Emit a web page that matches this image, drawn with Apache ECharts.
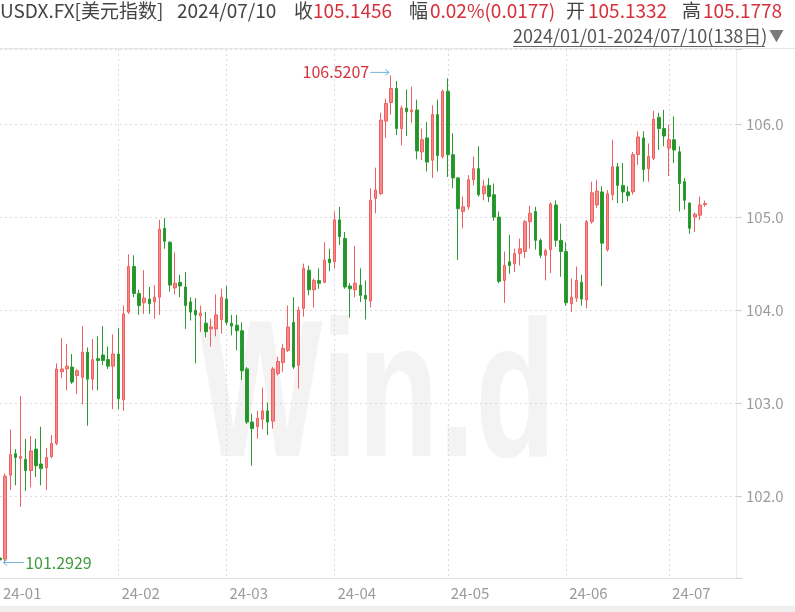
<!DOCTYPE html>
<html><head><meta charset="utf-8">
<script src="https://cdn.jsdelivr.net/npm/echarts@6/dist/echarts.min.js"></script>
<style>html,body{margin:0;padding:0;background:#fff}#c{width:795px;height:612px}</style>
</head><body><div id="c"></div>
<script>
// ---- data ----
const openP = [
101.34,101.33,102.23,102.46,102.41,102.40,102.28,102.51,102.35,102.31,
102.43,102.57,103.34,103.37,103.39,103.30,103.28,103.55,103.26,103.48,
103.52,103.47,103.40,103.53,103.04,103.98,104.47,104.18,104.08,104.12,
104.09,104.14,104.88,104.73,104.24,104.30,104.25,104.09,104.00,103.94,
103.86,103.80,103.80,103.90,104.12,103.86,103.84,103.78,103.37,102.80,
102.75,102.83,102.92,102.81,103.32,103.44,103.57,103.87,103.41,104.02,
104.43,104.22,104.32,104.30,104.55,104.52,104.97,104.77,104.26,104.22,
104.27,104.16,104.10,105.20,105.25,106.03,106.23,106.38,105.95,106.17,
106.13,106.15,105.70,105.85,105.61,106.10,105.65,106.35,105.67,105.42,
105.06,105.11,105.40,105.52,105.25,105.34,105.24,105.00,104.32,104.52,
104.50,104.61,104.63,104.95,105.06,104.75,104.59,104.65,105.13,104.75,
104.63,104.07,104.13,104.30,104.11,104.95,105.13,105.27,104.65,105.24,
105.54,105.34,105.27,105.27,105.67,105.85,105.52,105.63,106.07,105.95,
105.74,105.83,105.70,105.38,105.15,105.00,105.02,105.1332];
const closeP = [
101.32,102.22,102.45,102.42,102.43,102.28,102.49,102.33,102.30,102.42,
102.57,103.37,103.37,103.40,103.23,103.35,103.55,103.26,103.47,103.46,
103.46,103.40,103.53,103.05,103.96,104.47,104.18,104.05,104.13,104.07,
104.14,104.87,104.74,104.27,104.29,104.26,104.05,103.98,103.95,103.97,
103.77,103.82,103.95,104.14,103.87,103.83,103.78,103.35,102.80,102.73,
102.84,102.92,102.80,103.37,103.45,103.59,103.82,103.39,104.00,104.45,
104.22,104.32,104.29,104.54,104.51,104.97,104.79,104.25,104.23,104.29,
104.16,104.12,105.18,105.29,106.04,106.22,106.38,105.95,106.17,106.13,
106.15,105.71,105.83,105.59,106.10,105.66,106.35,105.67,105.42,105.09,
105.11,105.40,105.52,105.24,105.33,105.22,105.00,104.31,104.48,104.48,
104.61,104.66,104.95,105.04,104.75,104.59,104.64,105.14,104.75,104.63,
104.08,104.14,104.32,104.12,104.95,105.26,105.28,104.72,105.25,105.54,
105.34,105.27,105.23,105.67,105.86,105.51,105.65,106.05,105.95,105.87,
105.83,105.72,105.36,105.18,104.88,105.03,105.13,105.1456];
const lowP = [
101.30,101.2929,102.07,102.12,101.89,102.06,102.10,102.21,102.12,102.07,
102.41,102.55,103.27,103.14,103.21,103.10,102.99,102.76,103.14,103.14,
103.41,103.37,102.94,102.94,102.92,103.96,104.14,103.95,103.96,103.96,
103.91,103.95,104.66,104.20,104.17,104.14,103.80,103.89,103.43,103.77,
103.71,103.61,103.72,103.75,103.84,103.73,103.57,103.25,102.78,102.33,
102.62,102.72,102.66,102.73,103.30,103.34,103.55,103.37,103.16,103.93,
104.16,104.03,104.23,104.29,104.42,104.45,104.70,104.23,103.92,104.14,
104.09,103.90,104.03,105.04,105.24,105.85,106.10,105.88,105.77,105.87,
106.01,105.62,105.61,105.49,105.42,105.49,105.63,105.43,105.31,104.54,
104.88,105.08,105.34,105.22,105.18,105.16,104.96,104.29,104.08,104.39,
104.41,104.48,104.56,104.66,104.65,104.56,104.32,104.40,104.68,104.36,
104.05,103.98,104.09,104.05,104.02,104.93,105.10,104.26,104.63,105.18,
105.15,105.15,105.17,105.24,105.56,105.38,105.38,105.61,105.72,105.76,
105.44,105.58,105.06,105.08,104.82,104.84,104.97,105.11];
const highP = [
101.36,102.25,102.72,102.51,103.08,102.62,102.65,102.62,102.75,102.52,
102.66,103.43,103.70,103.64,103.53,103.37,103.83,103.60,103.69,103.72,
103.83,103.61,103.74,103.81,104.05,104.60,104.59,104.22,104.43,104.25,
104.27,104.97,104.99,104.74,104.62,104.38,104.41,104.14,104.13,104.05,
103.98,103.91,104.17,104.23,104.26,103.95,103.95,103.87,103.39,102.89,
102.92,103.17,103.01,103.39,103.50,103.64,104.05,104.14,104.04,104.50,
104.48,104.34,104.45,104.73,104.66,105.06,105.11,104.84,104.29,104.69,
104.45,104.32,105.31,105.53,106.12,106.27,106.5207,106.46,106.20,106.37,
106.40,106.26,105.95,106.02,106.20,106.26,106.37,106.49,105.90,105.43,
105.22,105.45,105.65,105.76,105.40,105.42,105.36,105.06,104.63,104.81,
104.66,104.77,104.97,105.12,105.11,104.77,104.66,105.16,105.18,104.93,
104.73,104.34,104.47,104.38,104.97,105.38,105.40,105.33,105.29,105.83,
105.58,105.58,105.33,105.70,105.92,105.92,105.79,106.14,106.12,106.15,
105.99,106.08,105.76,105.42,105.16,105.05,105.22,105.1778];
const yTickLabels = ['102.0','103.0','104.0','105.0','106.0'];
const headerParts = [
  ['USDX.FX[美元指数]', '#444'], ['2024/07/10', '#444'], ['收', '#444'], ['105.1456', '#d7303a'],
  ['幅', '#444'], ['0.02%(0.0177)', '#d7303a'], ['开', '#444'], ['105.1332', '#d7303a'],
  ['高', '#444'], ['105.1778', '#d7303a']
];
const rangeText = '2024/01/01-2024/07/10(138日)';

// trading-day categories (weekdays 2024-01-01 .. 2024-07-10)
const dates = [];
for (let d = new Date(Date.UTC(2024,0,1)); d <= new Date(Date.UTC(2024,6,10)); d.setUTCDate(d.getUTCDate()+1)) {
  const w = d.getUTCDay();
  if (w !== 0 && w !== 6) dates.push(d.toISOString().slice(0,10));
}
const categories = dates.concat(['', '', '', '', '', '']);
const monthStart = categories.map((v, i) => v !== '' && (i === 0 || v.slice(5,7) !== categories[i-1].slice(5,7)));

const FONT = '"Noto Sans CJK SC", "Noto Sans", sans-serif';
const chart = echarts.init(document.getElementById('c'), null, {renderer: 'canvas'});
const headerX = [0, 177, 294, 313, 409, 430, 566, 588, 682, 703];

const graphics = [
  {type:'text', x:198, y:402, scaleX:0.68, z:0, silent:true,
   style:{text:'Win.d', font:'bold 194px "Liberation Sans", sans-serif', fill:'#f3f3f3', verticalAlign:'middle', textVerticalAlign:'middle'}},
  {type:'line', shape:{x1:0, y1:48.5, x2:795, y2:48.5}, style:{stroke:'#e6e6e6', lineWidth:1}, z:10},
  {type:'rect', shape:{x:0, y:606, width:795, height:6}, style:{fill:'#efefef'}, z:10},
  {type:'text', x:513, y:36, z:10, style:{text:rangeText, font:'18px ' + FONT, fill:'#555', verticalAlign:'middle', textVerticalAlign:'middle'}},
  {type:'line', shape:{x1:513, y1:46.5, x2:765, y2:46.5}, style:{stroke:'#666', lineWidth:1}, z:10},
  {type:'text', x:769, y:35, z:10, style:{text:'▼', font:'15px ' + FONT, fill:'#7a7a7a', verticalAlign:'middle', textVerticalAlign:'middle'}}
];
headerParts.forEach((p, i) => {
  graphics.push({type:'text', x:headerX[i], y:11, z:10,
    style:{text:p[0], font:'19px ' + FONT, fill:p[1], verticalAlign:'middle', textVerticalAlign:'middle'}});
});

chart.setOption({
  animation: false,
  backgroundColor: '#fff',
  grid: {left: 0, right: 59, top: 49, bottom: 34},
  xAxis: {
    type: 'category', data: categories, boundaryGap: false,
    axisLine: {show: true, lineStyle: {color: '#e2e2e2'}},
    axisTick: {show: false},
    axisLabel: {interval: (i) => monthStart[i], formatter: (v) => v.slice(2,7), align: 'left',
      color: '#9b9b9b', fontSize: 15, fontFamily: FONT, margin: 8, padding: [0,0,0,3]},
    splitLine: {show: true, interval: (i) => monthStart[i] && i > 0, lineStyle: {color: '#dadada', type: [2,3]}}
  },
  yAxis: {
    type: 'value', position: 'right', min: 101.126, max: 106.804, scale: true, splitNumber: 5,
    axisLine: {show: true, lineStyle: {color: '#ececec'}},
    axisTick: {show: true, length: 6, lineStyle: {color: '#cfcfcf'}},
    axisLabel: {color: '#9b9b9b', fontSize: 15, fontFamily: FONT, margin: 10,
      formatter: (v) => { const s = v.toFixed(1); return yTickLabels.indexOf(s) >= 0 && Math.abs(v - Math.round(v)) < 1e-6 ? s : ''; }},
    splitLine: {show: true, lineStyle: {color: '#dadada', type: [2,3]}}
  },
  series: [{
    type: 'candlestick', z: 3,
    barWidth: 3,
    data: openP.map((o, i) => [o, closeP[i], lowP[i], highP[i]]),
    itemStyle: {color: '#f58a8a', color0: '#23962a', borderColor: '#ef5f5f', borderColor0: '#2b9a31', borderWidth: 1}
  }],
  graphic: graphics
});

// annotations for the highest high and lowest low
const hiIdx = highP.indexOf(Math.max(...highP));
const loIdx = lowP.indexOf(Math.min(...lowP));
const hp = chart.convertToPixel({gridIndex: 0}, [hiIdx, highP[hiIdx]]);
const lp = chart.convertToPixel({gridIndex: 0}, [loIdx, lowP[loIdx]]);
const arrowC = '#76b5dc';
const ann = [
  {type:'polyline', shape:{points:[[hp[0]-21, hp[1]-3],[hp[0]-2, hp[1]-3]]}, style:{stroke:arrowC, lineWidth:1, fill:null}, z:12},
  {type:'polyline', shape:{points:[[hp[0]-6, hp[1]-6],[hp[0]-2, hp[1]-3],[hp[0]-6, hp[1]]]}, style:{stroke:arrowC, lineWidth:1, fill:null}, z:12},
  {type:'text', x:hp[0]-22, y:hp[1]-3, z:12, style:{text:highP[hiIdx].toFixed(4), font:'16px ' + FONT, fill:'#d7303a', align:'right', textAlign:'right', verticalAlign:'middle', textVerticalAlign:'middle'}},
  {type:'polyline', shape:{points:[[lp[0]-2, lp[1]],[lp[0]+19, lp[1]]]}, style:{stroke:arrowC, lineWidth:1, fill:null}, z:12},
  {type:'polyline', shape:{points:[[lp[0]+2, lp[1]-3],[lp[0]-2, lp[1]],[lp[0]+2, lp[1]+3]]}, style:{stroke:arrowC, lineWidth:1, fill:null}, z:12},
  {type:'text', x:lp[0]+20, y:lp[1], z:12, style:{text:lowP[loIdx].toFixed(4), font:'16px ' + FONT, fill:'#3f9a3f', verticalAlign:'middle', textVerticalAlign:'middle'}}
];
chart.setOption({graphic: graphics.concat(ann)});
</script>
</body></html>
